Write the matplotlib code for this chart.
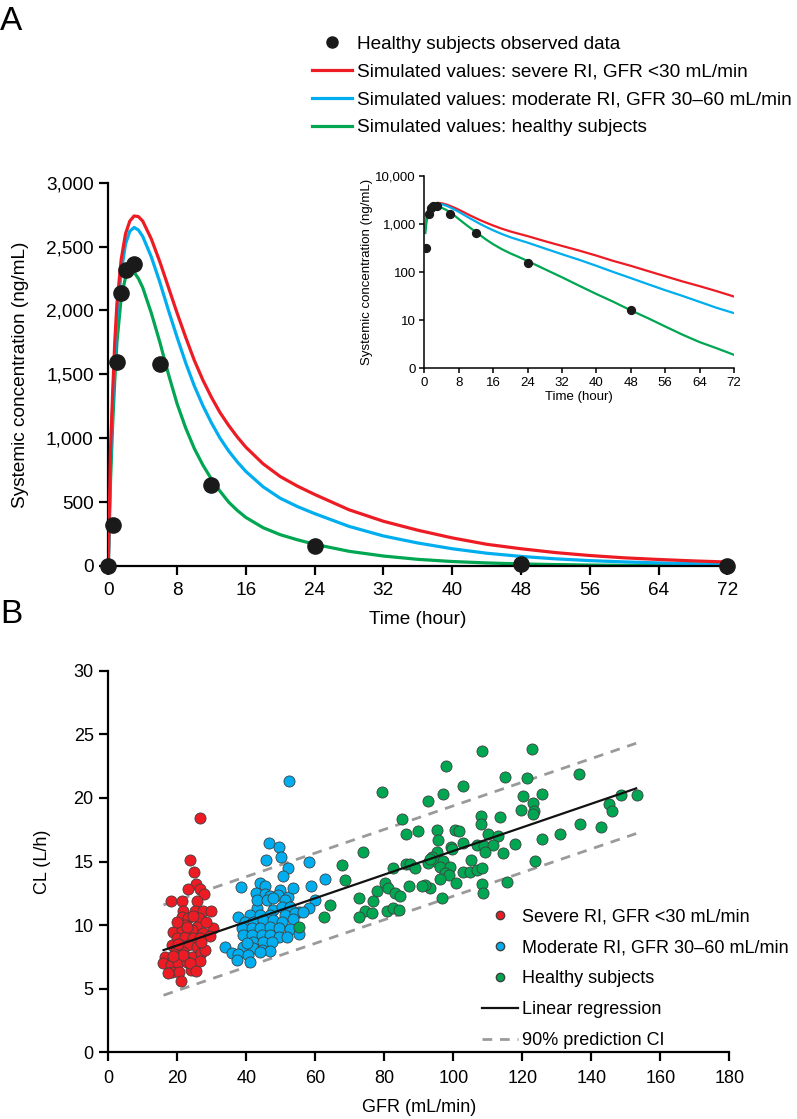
import numpy as np
import matplotlib.pyplot as plt
from matplotlib.lines import Line2D
from matplotlib.ticker import FuncFormatter

plt.rcParams['font.family'] = ['Liberation Sans', 'DejaVu Sans']

RED = '#ED1C24'
BLUE = '#00AEEF'
GREEN = '#00A651'

# ---- Panel A data ----
time_obs = [0, 0.5, 1, 1.5, 2, 3, 6, 12, 24, 48, 72]
conc_obs = [0, 320, 1600, 2135, 2315, 2360, 1585, 635, 155, 16, 0]

time_sim = [0, 0.25, 0.5, 0.75, 1, 1.5, 2, 2.5, 3, 3.5, 4, 5, 6, 7, 8, 9, 10,
            11, 12, 13, 14, 15, 16, 18, 20, 22, 24, 28, 32, 36, 40, 44, 48, 52,
            56, 60, 64, 68, 72]
conc_severe = [0, 900, 1350, 1750, 2050, 2400, 2600, 2700, 2740, 2735, 2700, 2560,
               2380, 2180, 1980, 1790, 1610, 1455, 1320, 1200, 1100, 1010, 930, 800,
               700, 625, 560, 440, 350, 280, 220, 170, 135, 105, 82, 64, 51, 40, 31]
conc_moderate = [0, 800, 1250, 1650, 1950, 2300, 2520, 2620, 2650, 2630, 2580, 2420,
                 2220, 2000, 1790, 1590, 1410, 1255, 1120, 1000, 900, 815, 740, 620,
                 530, 465, 410, 310, 235, 180, 135, 100, 75, 56, 42, 32, 24, 18, 14]
conc_healthy = [0, 650, 1100, 1450, 1750, 2100, 2260, 2310, 2300, 2250, 2180, 1980,
                1750, 1500, 1270, 1080, 920, 790, 680, 585, 500, 435, 380, 300,
                245, 205, 170, 115, 78, 52, 35, 24, 16, 11, 7.4, 5.0, 3.5, 2.6, 1.9]

# ---- Panel B data ----
gfr_severe = [23.7, 24.8, 25.4, 23.0, 26.6, 27.7, 18.2, 21.3, 25.6, 21.7, 25.1, 27.4,
              29.8, 21.3, 23.2, 26.4, 22.2, 25.6, 30.3, 18.8, 21.3, 24.2, 27.5, 19.8,
              22.2, 24.6, 26.6, 29.5, 18.4, 20.8, 23.2, 25.6, 19.3, 21.7, 24.2, 26.8,
              16.4, 15.9, 18.1, 20.3, 22.7, 26.6, 18.4, 20.6, 23.9, 21.0, 17.4, 26.6,
              22.9, 19.8, 28.3, 24.6, 20.2, 28.0, 21.7, 23.7, 25.4, 18.8, 26.9]
cl_severe = [15.12, 14.15, 13.23, 12.81, 12.81, 12.44, 11.92, 11.92, 11.92, 11.13,
             11.13, 11.13, 11.13, 10.66, 10.53, 10.53, 10.01, 9.87, 9.80, 9.48, 9.61,
             9.61, 9.36, 8.96, 9.09, 8.96, 8.96, 9.14, 8.44, 8.44, 8.44, 8.30, 7.78,
             7.91, 7.52, 7.78, 7.52, 7.00, 6.86, 7.00, 7.12, 7.20, 6.34, 6.34, 6.47,
             5.63, 6.21, 18.44, 9.87, 10.27, 10.24, 10.72, 8.51, 8.04, 7.65, 7.02,
             6.39, 7.57, 8.69]

gfr_moderate = [46.7, 49.4, 45.7, 50.1, 58.2, 52.2, 50.6, 38.5, 44.0, 45.4, 42.8, 45.4,
                46.9, 49.8, 49.3, 52.2, 53.4, 51.2, 58.7, 62.8, 59.9, 43.0, 47.8, 50.3,
                52.7, 55.4, 58.3, 41.1, 37.7, 44.0, 46.9, 51.2, 54.1, 56.5, 53.4, 39.6,
                42.0, 44.9, 47.8, 50.3, 38.7, 41.6, 44.0, 46.9, 49.6, 52.7, 39.1, 41.6,
                44.5, 46.9, 49.6, 51.7, 42.0, 44.9, 47.4, 39.1, 42.0, 44.5, 46.9, 33.8,
                35.8, 37.7, 40.6, 37.2, 41.1, 44.0, 40.1, 43.0, 45.9, 47.8, 52.5, 55.4]
cl_moderate = [16.48, 16.12, 15.12, 15.33, 14.96, 14.51, 13.86, 13.02, 13.29, 13.10,
               12.55, 12.42, 12.31, 12.76, 12.37, 12.23, 12.89, 11.95, 13.07, 13.65,
               11.95, 11.32, 11.19, 11.45, 11.45, 11.05, 11.32, 10.79, 10.61, 10.79,
               10.79, 10.79, 10.97, 11.05, 10.46, 10.27, 10.27, 10.40, 10.40, 10.27,
               9.75, 9.75, 9.75, 9.87, 9.75, 9.67, 9.22, 9.22, 9.22, 9.22, 9.09, 9.09,
               8.69, 8.69, 8.69, 8.30, 8.18, 8.04, 7.99, 8.25, 7.78, 7.73, 7.65, 7.26,
               7.12, 7.91, 8.57, 11.97, 11.97, 12.11, 21.35, 9.30]

gfr_healthy = [108.4, 122.7, 97.9, 136.3, 114.9, 121.3, 79.3, 96.9, 102.9, 92.6, 120.1,
               125.7, 123.2, 123.4, 123.0, 119.5, 145.0, 146.0, 148.5, 153.2, 136.6,
               142.9, 130.8, 125.6, 113.5, 107.9, 107.9, 110.1, 112.9, 85.2, 86.3, 89.7,
               95.3, 95.5, 100.5, 101.7, 102.7, 106.8, 109.0, 111.6, 109.2, 114.5, 117.9,
               99.2, 99.5, 95.2, 93.7, 95.2, 97.1, 92.8, 96.1, 99.0, 97.6, 98.8, 96.1,
               105.2, 102.9, 104.8, 106.8, 108.2, 123.7, 108.2, 108.7, 115.5, 100.8,
               93.2, 91.8, 91.0, 87.2, 82.6, 86.3, 87.4, 88.9, 73.8, 67.8, 68.6, 80.2,
               81.2, 77.8, 83.1, 84.6, 72.6, 76.8, 96.6, 74.4, 76.3, 72.7, 80.7, 82.4,
               84.3, 64.3, 62.6, 55.3, 93.2]
cl_healthy = [23.71, 23.82, 22.53, 21.88, 21.62, 21.54, 20.46, 20.31, 20.91, 19.76,
              20.17, 20.31, 19.62, 18.99, 18.73, 19.05, 19.50, 18.95, 20.25, 20.25,
              17.95, 17.71, 17.19, 16.75, 18.52, 18.60, 17.92, 17.16, 17.00, 18.34,
              17.16, 17.40, 17.45, 16.69, 17.48, 17.42, 16.43, 16.30, 16.22, 16.30,
              15.75, 15.64, 16.37, 16.16, 15.96, 15.77, 15.38, 14.98, 15.06, 14.91,
              14.59, 14.59, 14.12, 13.94, 13.60, 15.12, 14.20, 14.20, 14.33, 14.49,
              15.04, 13.23, 12.55, 13.41, 13.33, 12.89, 13.15, 13.10, 13.10, 14.47,
              14.80, 14.78, 14.47, 15.77, 14.70, 13.55, 13.33, 12.89, 12.70, 12.55,
              12.29, 12.11, 11.89, 12.11, 11.13, 10.93, 10.66, 11.11, 11.32, 11.19,
              11.58, 10.66, 9.87, 15.17]

reg_range = [16, 153]
reg_intercept = 6.55
reg_slope = 0.0928
pi_halfwidth = 3.55

FS_A = 13.7
FS_B = 13.0


def style_axes(ax, lw=1.6, ticklen=6.5, pad=4):
    for s in ('top', 'right'):
        ax.spines[s].set_visible(False)
    for s in ('left', 'bottom'):
        ax.spines[s].set_linewidth(lw)
    ax.tick_params(direction='out', length=ticklen, width=lw, colors='black', pad=pad)


fig = plt.figure(figsize=(7.97, 11.19), dpi=100)

# ---------------- Panel A ----------------
ax = fig.add_axes([0.1359, 0.4942, 0.7767, 0.3425])
ax.plot(time_sim, conc_severe, color=RED, lw=2.3, zorder=3)
ax.plot(time_sim, conc_moderate, color=BLUE, lw=2.3, zorder=2)
ax.plot(time_sim, conc_healthy, color=GREEN, lw=2.3, zorder=1)
ax.scatter(time_obs, conc_obs, s=120, color='#1a1a1a', zorder=4, clip_on=False)
ax.set_xlim(0, 72)
ax.set_ylim(0, 3000)
ax.set_xticks(range(0, 73, 8))
ax.set_yticks(range(0, 3001, 500))
ax.yaxis.set_major_formatter(FuncFormatter(lambda v, p: f'{int(v):,}'))
style_axes(ax)
ax.tick_params(labelsize=FS_A)
ax.tick_params(axis='x', pad=5)
ax.set_xlabel('Time (hour)', fontsize=FS_A, labelpad=9)
ax.set_ylabel('Systemic concentration (ng/mL)', fontsize=FS_A, labelpad=12)

# inset (log scale)
ins = fig.add_axes([0.5324, 0.6709, 0.3886, 0.1719])
pos_t = [t for t, c in zip(time_obs, conc_obs) if c > 0]
pos_c = [c for c in conc_obs if c > 0]
for conc, col in ((conc_severe, RED), (conc_moderate, BLUE), (conc_healthy, GREEN)):
    tt = [t for t, c in zip(time_sim, conc) if c > 0]
    cc = [c for c in conc if c > 0]
    ins.plot(tt, cc, color=col, lw=1.6)
ins.scatter(pos_t, pos_c, s=32, color='#1a1a1a', zorder=4)
ins.set_yscale('log')
ins.set_xlim(0, 72)
ins.set_ylim(1, 10000)
ins.set_xticks(range(0, 73, 8))
ins.set_yticks([1, 10, 100, 1000, 10000])
ins.set_yticklabels(['0', '10', '100', '1,000', '10,000'])
ins.minorticks_off()
style_axes(ins, lw=1.1, ticklen=3.5, pad=2.5)
ins.tick_params(labelsize=9.5)
ins.set_xlabel('Time (hour)', fontsize=9.5, labelpad=2)
ins.set_ylabel('Systemic concentration (ng/mL)', fontsize=9.5, labelpad=1.5)

handles_a = [
    Line2D([], [], marker='o', color='#1a1a1a', ls='none', markersize=8),
    Line2D([], [], color=RED, lw=2.3),
    Line2D([], [], color=BLUE, lw=2.3),
    Line2D([], [], color=GREEN, lw=2.3),
]
labels_a = ['Healthy subjects observed data',
            'Simulated values: severe RI, GFR <30 mL/min',
            'Simulated values: moderate RI, GFR 30\u201360 mL/min',
            'Simulated values: healthy subjects']
fig.legend(handles_a, labels_a, loc='upper left', bbox_to_anchor=(0.392, 0.9685),
           frameon=False, fontsize=FS_A, handlelength=2.1, handletextpad=0.25,
           labelspacing=0.56, borderpad=0, borderaxespad=0)

fig.text(0.0, 0.995, 'A', fontsize=24, va='top', ha='left')

# ---------------- Panel B ----------------
bx = fig.add_axes([0.1359, 0.0596, 0.7792, 0.3410])
kw = dict(s=64, edgecolors='#404040', linewidths=0.6, zorder=3)
bx.scatter(gfr_severe, cl_severe, color=RED, **kw)
bx.scatter(gfr_moderate, cl_moderate, color=BLUE, **kw)
bx.scatter(gfr_healthy, cl_healthy, color=GREEN, **kw)
xr = np.array(reg_range, dtype=float)
yr = reg_intercept + reg_slope * xr
bx.plot(xr, yr, color='#111111', lw=1.6, zorder=4)
bx.plot(xr, yr + pi_halfwidth, color='#9a9a9a', lw=2, dashes=(3.5, 2.8), zorder=2)
bx.plot(xr, yr - pi_halfwidth, color='#9a9a9a', lw=2, dashes=(3.5, 2.8), zorder=2)
bx.set_xlim(0, 180)
bx.set_ylim(0, 30)
bx.set_xticks(range(0, 181, 20))
bx.set_yticks(range(0, 31, 5))
style_axes(bx)
bx.tick_params(labelsize=FS_B)
bx.tick_params(axis='x', pad=6)
bx.set_xlabel('GFR (mL/min)', fontsize=FS_B, labelpad=9)
bx.set_ylabel('CL (L/h)', fontsize=FS_B, labelpad=16)

handles_b = [
    Line2D([], [], marker='o', color=RED, markeredgecolor='#404040', ls='none', markersize=6),
    Line2D([], [], marker='o', color=BLUE, markeredgecolor='#404040', ls='none', markersize=6),
    Line2D([], [], marker='o', color=GREEN, markeredgecolor='#404040', ls='none', markersize=6),
    Line2D([], [], color='#111111', lw=1.6),
    Line2D([], [], color='#9a9a9a', lw=2, dashes=(3.5, 2.8)),
]
labels_b = ['Severe RI, GFR <30 mL/min', 'Moderate RI, GFR 30\u201360 mL/min',
            'Healthy subjects', 'Linear regression', '90% prediction CI']
bx.legend(handles_b, labels_b, loc='upper left', bbox_to_anchor=(0.602, 0.377),
          frameon=False, fontsize=FS_B, handlelength=2.0, handletextpad=0.2,
          labelspacing=0.77, borderpad=0, borderaxespad=0)

fig.text(0.0, 0.465, 'B', fontsize=24, va='top', ha='left')

fig.savefig('out.png', dpi=100)
